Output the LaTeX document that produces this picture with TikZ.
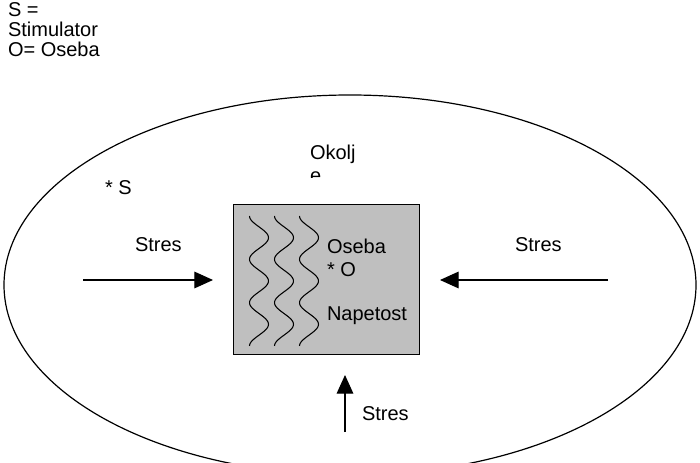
\documentclass[tikz,border=0pt]{standalone}
\usepackage{fontspec}
\setmainfont{Liberation Sans}
\usetikzlibrary{arrows.meta,shapes.geometric}

\begin{document}
\begin{tikzpicture}[x=0.75pt,y=-0.75pt,
  every node/.style={font=\fontsize{15}{18}\selectfont, inner sep=0pt, outer sep=0pt},
  label/.style={anchor=base west},
  env/.style={draw=black, line width=0.9pt, ellipse, minimum width=519pt, minimum height=285pt},
  person/.style={draw=black, line width=0.9pt, fill=black!25, minimum width=140pt, minimum height=113pt},
  wave/.style={draw=black, line width=0.8pt},
  arr/.style={draw=black, line width=0.8pt, -{Triangle[length=14pt,width=12.5pt]}}]
  \useasboundingbox (0,0) rectangle (700,463);

  % legend
  \node[label] (leg1) at (8,17) {S =};
  \node[label] (leg2) at (8,37) {Stimulator};
  \node[label] (leg3) at (8,57) {O= Oseba};

  % surroundings
  \begin{scope}
    \clip (0,0) rectangle (700,463);
    \node[env] (okolje) at (350,285) {};
  \end{scope}
  \node[label] (okolj) at (310,160) {Okolj};
  \begin{scope}
    \clip (280,165) rectangle (380,178);
    \node[label] (okoljend) at (310,183) {e};
  \end{scope}
  \node[label] (stim) at (105,195) {* S};

  % the person
  \node[person] (box) at (326.5,279.5) {};
  \foreach \c in {259,284,309}
    \draw[wave] plot[domain=0:1, samples=90, smooth]
      ({\c - 9.5*cos(3*360*\x)}, {216 + 130*\x});
  \node[label] (oseba) at (327,254) {Oseba};
  \node[label] (ostar) at (327,277) {* O};
  \node[label] (napetost) at (327,321) {Napetost};

  % stress arrows
  \coordinate (la) at (83,280);  \coordinate (lb) at (213,280);
  \coordinate (ra) at (608,280); \coordinate (rb) at (440,280);
  \coordinate (ba) at (345,432); \coordinate (bb) at (345,375);
  \draw[arr] (la) -- (lb);
  \draw[arr] (ra) -- (rb);
  \draw[arr] (ba) -- (bb);
  \node[label] (stresl) at (135,252) {Stres};
  \node[label] (stresr) at (515,252) {Stres};
  \node[label] (stresb) at (362,420) {Stres};
\end{tikzpicture}
\end{document}
